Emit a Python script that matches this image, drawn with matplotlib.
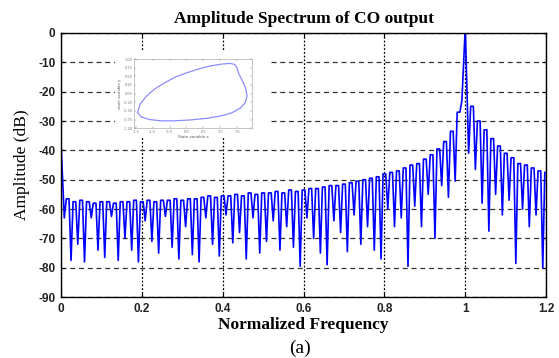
import numpy as np
import matplotlib
matplotlib.use('Agg')
import matplotlib.pyplot as plt

plt.rcParams['axes.unicode_minus'] = False

# lobe peaks (dB), one every 1/60 of normalized frequency, from 0 to 1.2
peak_db = [-37, -56.5, -57.5, -57, -57.5, -58, -57.5, -57.5, -58, -57.5,
           -57.5, -57, -57.5, -57, -57.5, -57, -57, -56.5, -57, -56.5,
           -56.5, -56, -55.5, -56, -55.5, -55.5, -55, -55.5, -54.5, -55,
           -54.5, -54.5, -54, -54.5, -53.5, -54, -53.5, -53, -53, -52.5,
           -52, -52, -51.5, -51, -50.5, -50, -49.5, -49, -48, -47.5,
           -47, -46, -45, -44.5, -43, -41.5, -39.5, -37, -33.5, -27,
           2, -25, -30, -33, -36, -38.5, -41, -42.5, -44.5, -45,
           -46, -47, -47.5]
# nulls between successive peaks (dB)
null_db = [-63, -77.5, -72, -78, -63, -74, -76.5, -62.5, -77.5, -70,
           -74, -78, -64, -71, -75, -62.5, -73, -77, -66, -75.5,
           -78, -63, -72, -76, -62, -71.5, -68, -77, -63, -75,
           -71, -64, -74, -66, -73, -79.5, -63, -70, -75, -79,
           -64, -68, -74.5, -62, -72, -66, -74, -77, -60, -66,
           -63, -79.5, -59, -66, -55, -70, -52, -56, -50.5, -23,
           -41, -46.5, -58, -67.5, -55, -62, -57, -78.5, -60, -66,
           -62, -80]
lobe_step = 1.0 / 60
main_lobe = 60

# inset: limit cycle (state variable x, state variable y)
cyc_x = [-1.45, -1.37, -1.20, -0.95, -0.65, -0.35, 0.0, 0.35, 0.70, 1.05,
         1.30, 1.43, 1.50, 1.55, 1.65, 1.75, 1.80, 1.75, 1.60, 1.35,
         1.05, 0.65, 0.15, -0.35, -0.75, -1.10, -1.35, -1.45]
cyc_y = [-0.546, -0.30, -0.09, 0.13, 0.31, 0.47, 0.60, 0.71, 0.80, 0.855,
         0.874, 0.845, 0.76, 0.585, 0.39, 0.18, -0.06, -0.256, -0.42, -0.556,
         -0.64, -0.71, -0.76, -0.787, -0.787, -0.75, -0.67, -0.546]

# each lobe drawn with a flat top, nulls as sharp dips
half_top = 0.2 * lobe_step
freq = [0.0]
amp = [peak_db[0]]
for k in range(1, len(peak_db)):
    freq.append((k - 0.5) * lobe_step)
    amp.append(null_db[k - 1])
    if k == main_lobe:
        freq.append(k * lobe_step)
        amp.append(peak_db[k])
    else:
        freq += [k * lobe_step - half_top, k * lobe_step + half_top]
        amp += [peak_db[k], peak_db[k]]

fig = plt.figure(figsize=(5.59, 3.58), dpi=100)
ax = fig.add_axes([0.109, 0.170, 0.868, 0.738])
ax.plot(freq, amp, color='#0000ff', lw=1.2)
ax.set_xlim(0, 1.2)
ax.set_ylim(-90, 0)
ax.set_xticks([0, 0.2, 0.4, 0.6, 0.8, 1.0, 1.2])
ax.set_xticklabels(['0', '0.2', '0.4', '0.6', '0.8', '1', '1.2'])
ax.set_yticks(np.arange(-90, 1, 10))
ax.xaxis.grid(True, linestyle=(0, (1.5, 1.5)), color='black', lw=0.9)
ax.yaxis.grid(True, linestyle=(0, (4, 3)), color='#333333', lw=0.9)
ax.tick_params(direction='in', length=3, width=0.8, top=True, right=True, pad=4)
for lab in ax.get_xticklabels() + ax.get_yticklabels():
    lab.set_fontfamily('Liberation Sans')
    lab.set_fontweight('bold')
    lab.set_fontsize(8.5)
    lab.set_color('#222222')
for sp in ax.spines.values():
    sp.set_linewidth(1.0)

ax.set_title('Amplitude Spectrum of CO output', fontfamily='Liberation Serif',
             fontweight='bold', fontsize=12.5, pad=7)
ax.set_xlabel('Normalized Frequency', fontfamily='Liberation Serif',
              fontweight='bold', fontsize=12.5, labelpad=2)
ax.set_ylabel('Amplitude (dB)', fontfamily='Liberation Serif', fontsize=12.5,
              labelpad=6)
fig.text(0.537, 0.028, '(a)', fontfamily='Liberation Serif', fontsize=14,
         ha='center', va='center')

# white area behind the inset
cover = fig.add_axes([0.206, 0.617, 0.273, 0.243])
cover.set_facecolor('white')
cover.set_xticks([])
cover.set_yticks([])
for sp in cover.spines.values():
    sp.set_visible(False)

ins = fig.add_axes([0.240, 0.642, 0.211, 0.193])
ins.plot(cyc_x, cyc_y, color='#8c8cff', lw=0.9)
ins.set_xlim(-1.55, 1.95)
ins.set_ylim(-1, 1)
ins.tick_params(labelsize=2.5, length=1.2, width=0.3, direction='in',
                top=True, right=True, pad=1, colors='#777777')
ins.set_xlabel('State variable x', fontsize=2.8, labelpad=1, color='#555555')
ins.set_ylabel('state variable y', fontsize=2.8, labelpad=1, color='#555555')
for sp in ins.spines.values():
    sp.set_linewidth(0.4)
    sp.set_color('#999999')

fig.savefig('out.png', dpi=100)
